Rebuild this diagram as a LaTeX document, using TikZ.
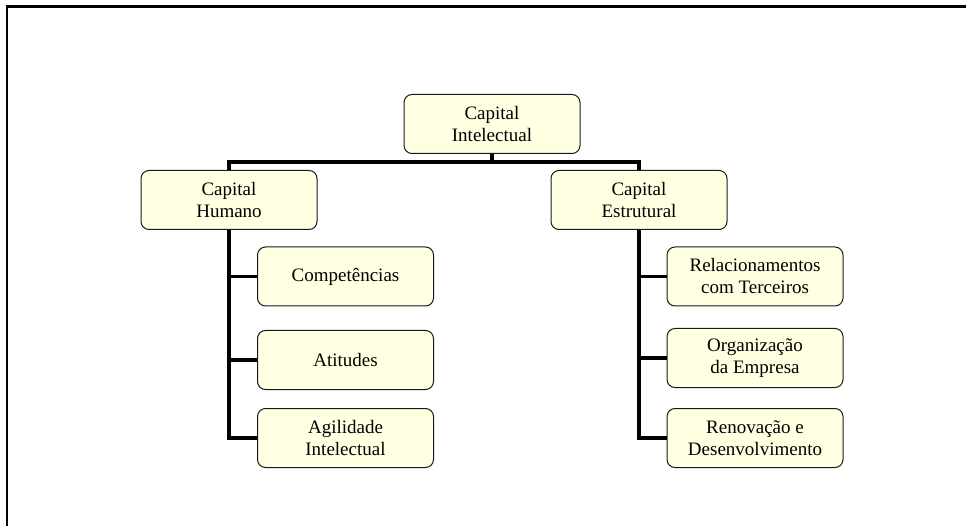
\documentclass[tikz,border=0pt]{standalone}
\usepackage{fontspec}
\setmainfont{Liberation Serif}
\definecolor{boxfill}{RGB}{255,255,226}
\begin{document}
\begin{tikzpicture}[x=1pt,y=-1pt,
  box/.style={draw=black!90, line width=1pt, fill=boxfill, rounded corners=8pt,
    minimum width=176pt, minimum height=59pt, align=center, inner sep=0pt,
    font=\fontsize{19}{22}\selectfont},
  link/.style={line width=3.6pt}]
\useasboundingbox (0,0) rectangle (966,526);
% open frame: left and top edges only
\draw[line width=2.2pt] (7,526) -- (7,6.5) -- (966,6.5);

% root and second level
\node[box] (ci) at (492,124) {Capital\\Intelectual};
\node[box] (ch) at (229,200) {Capital\\Humano};
\node[box] (ce) at (639,200) {Capital\\Estrutural};

% human capital branch
\node[box] (h1) at (345.5,276.5) {Competências};
\node[box] (h2) at (345.5,360) {Atitudes};
\node[box] (h3) at (345.5,438) {Agilidade\\Intelectual};

% structural capital branch
\node[box] (s1) at (755,276.5) {Relacionamentos\\com Terceiros};
\node[box] (s2) at (755,358) {Organização\\da Empresa};
\node[box] (s3) at (755,438) {Renovação e\\Desenvolvimento};

% connectors
\coordinate (bary) at (0,162);
\draw[link] (ci.south) -- (ci.south |- bary);
\draw[link] (ch.north) -- (ch.north |- bary) -- (ce.north |- bary) -- (ce.north);

\draw[link] (ch.south) |- (h3.west);
\draw[link] (ch.south |- h1.west) -- (h1.west);
\draw[link] (ch.south |- h2.west) -- (h2.west);

\draw[link] (ce.south) |- (s3.west);
\draw[link] (ce.south |- s1.west) -- (s1.west);
\draw[link] (ce.south |- s2.west) -- (s2.west);
\end{tikzpicture}
\end{document}
